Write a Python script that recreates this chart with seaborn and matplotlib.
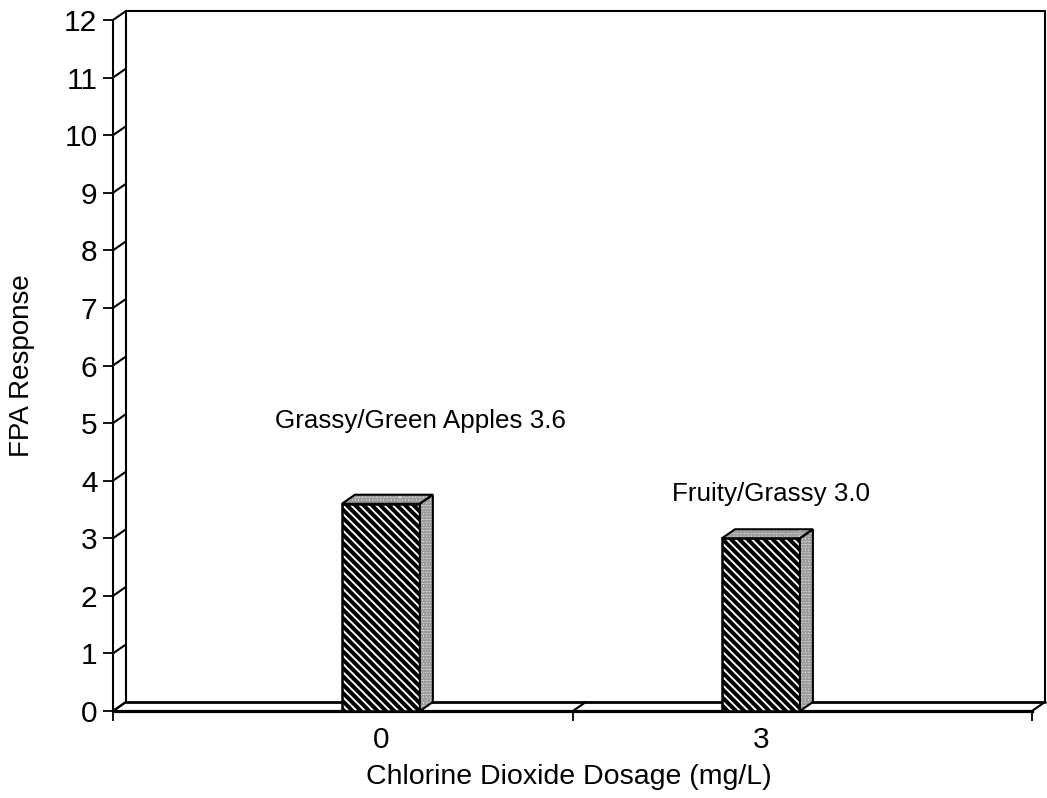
import numpy as np
import pandas as pd
import matplotlib
matplotlib.use("Agg")
import matplotlib.pyplot as plt
import seaborn as sns
from matplotlib.patches import Polygon
from matplotlib.lines import Line2D

# ---- data ----
categories = ["0", "3"]                       # chlorine dioxide dosage (mg/L)
responses = [3.6, 3.0]                        # FPA response
descriptors = ["Grassy/Green Apples", "Fruity/Grassy"]
y_ticks = list(range(0, 13))
xlabel = "Chlorine Dioxide Dosage (mg/L)"
ylabel = "FPA Response"

# ---- style ----
sns.set_theme(style="white")
plt.rcParams["font.family"] = ["Liberation Sans", "DejaVu Sans"]
plt.rcParams["hatch.linewidth"] = 2.9

fig = plt.figure(figsize=(10.47, 7.98), dpi=100)
ax = fig.add_axes([0.1079, 0.1090, 0.8777, 0.8659])

df = pd.DataFrame({"dose": categories, "resp": responses})
sns.barplot(data=df, x="dose", y="resp", order=categories, color="white",
            saturation=1, width=0.205, edgecolor="black", linewidth=1.8,
            hatch="\\\\\\\\", ax=ax, zorder=3)

xmin, xmax = -0.705, 1.713
ax.set_xlim(xmin, xmax)
ax.set_ylim(0, 12)

# depth offset of the pseudo-3D frame (13 px right, 9 px up)
inv = ax.transData.inverted()
o = ax.transData.transform((0, 0))
p = inv.transform(o + np.array([13, 9]) * fig.dpi / 100)
dxd, dyd = p[0], p[1]

# spines
for s in ["top", "right"]:
    ax.spines[s].set_visible(False)
ax.spines["left"].set_color("black")
ax.spines["left"].set_linewidth(1.5)
ax.spines["bottom"].set_color("black")
ax.spines["bottom"].set_linewidth(2.3)

# back wall / floor
kw = dict(color="black", lw=1.5, clip_on=False, zorder=1)
ymax = y_ticks[-1]
ax.add_line(Line2D([xmin + dxd, xmin + dxd], [dyd, ymax + dyd], **kw))
ax.add_line(Line2D([xmin + dxd, xmax + dxd], [ymax + dyd, ymax + dyd], **kw))
ax.add_line(Line2D([xmax + dxd, xmax + dxd], [ymax + dyd, dyd], **kw))
ax.add_line(Line2D([xmin + dxd, xmax + dxd], [dyd, dyd], color="black", lw=2.0,
                   clip_on=False, zorder=1))
for yt in y_ticks:
    ax.add_line(Line2D([xmin, xmin + dxd], [yt, yt + dyd], **kw))
seps = [xmin, 0.505, xmax]
for xs in seps:
    ax.add_line(Line2D([xs, xs + dxd], [0, dyd], **kw))

# 3-D faces of the bars (stippled side and top)
for patch in list(ax.patches):
    x0, w, h = patch.get_x(), patch.get_width(), patch.get_height()
    side = [(x0 + w, 0), (x0 + w + dxd, dyd), (x0 + w + dxd, h + dyd), (x0 + w, h)]
    top = [(x0, h), (x0 + dxd, h + dyd), (x0 + w + dxd, h + dyd), (x0 + w, h)]
    for verts in (side, top):
        ax.add_patch(Polygon(verts, closed=True, facecolor="#eeeeee",
                             edgecolor="#9a9a9a", lw=0, hatch="......",
                             zorder=3, clip_on=False))
        ax.add_patch(Polygon(verts, closed=True, facecolor="none",
                             edgecolor="black", lw=1.5, zorder=3.1,
                             clip_on=False))

# annotations
label_shift_x = [0.105, 0.026]
label_shift_y = [1.43, 0.77]
for i, (desc, val) in enumerate(zip(descriptors, responses)):
    ax.text(i + label_shift_x[i], val + label_shift_y[i], f"{desc} {val:.1f}",
            ha="center", va="center", fontsize=18.7, color="black")

# ticks
ax.set_yticks(y_ticks)
ax.set_yticklabels([str(t) for t in y_ticks])
ax.tick_params(axis="y", which="major", direction="out", length=7.2, width=1.3,
               pad=4, labelsize=21.5, colors="black", left=True)
ax.set_xticks([0, 1])
ax.set_xticklabels(categories)
ax.tick_params(axis="x", which="major", length=0, pad=11, labelsize=21.5,
               colors="black")
ax.set_xticks(seps, minor=True)
ax.tick_params(axis="x", which="minor", direction="out", length=7.2, width=1.3,
               bottom=True, colors="black")

ax.set_xlabel(xlabel, fontsize=20.5, color="black")
ax.set_ylabel(ylabel, fontsize=20, color="black")
ax.xaxis.set_label_coords(0.496, -0.0955)
ax.xaxis.label.set_verticalalignment("center")
ax.yaxis.set_label_coords(-0.099, 0.50)
ax.yaxis.label.set_verticalalignment("center")

fig.savefig("out.png", dpi=100, facecolor="white")
